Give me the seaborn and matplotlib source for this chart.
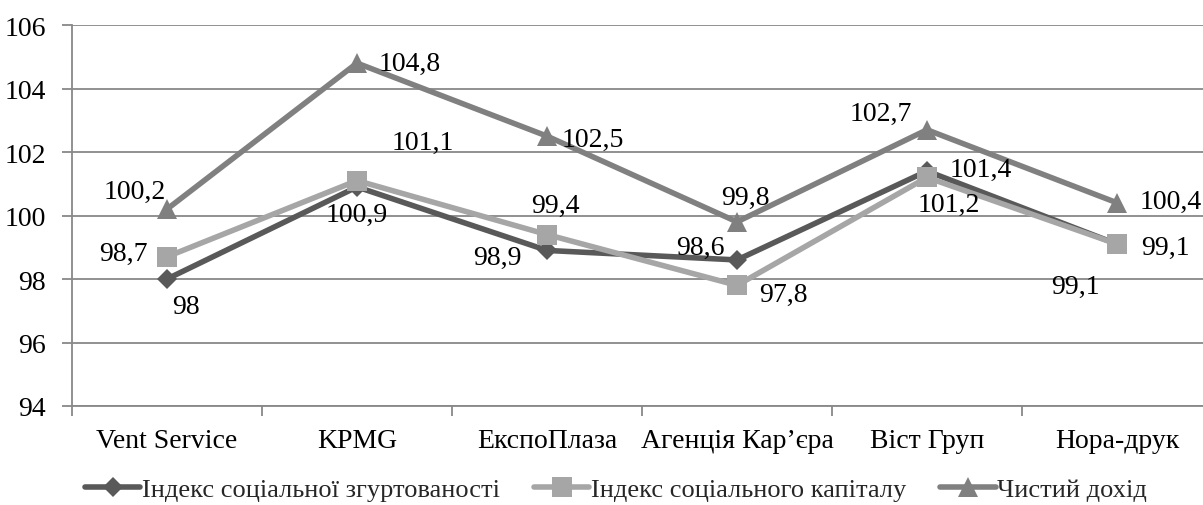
import seaborn as sns
import numpy as np
import pandas as pd
import matplotlib.pyplot as plt
from matplotlib.lines import Line2D

companies = ["Vent Service", "KPMG", "ЕкспоПлаза", "Агенція Кар’єра", "Віст Груп", "Нора-друк"]
cohesion = [98.0, 100.9, 98.9, 98.6, 101.4, 99.1]
capital = [98.7, 101.1, 99.4, 97.8, 101.2, 99.1]
income = [100.2, 104.8, 102.5, 99.8, 102.7, 100.4]
series_names = ["Індекс соціальної згуртованості", "Індекс соціального капіталу", "Чистий дохід"]

colors = ["#595959", "#a6a6a6", "#808080"]
markers = ["D", "s", "^"]
msizes = [10, 14, 14]

# label offsets in pixels, tuned by eye
offsets = [
    [(19, -27), (0, -27), (-50, -7), (-37, 13), (54, 2), (-42, -42)],
    [(-44, 3), (66, 38), (8, 29), (46, -9), (22, -27), (48, -3)],
    [(-32, 18), (53, 0), (46, -3), (8, 24), (-46, 16), (54, 1)],
]

df = pd.DataFrame({
    "company": companies * 3,
    "x": list(range(len(companies))) * 3,
    "value": cohesion + capital + income,
    "series": np.repeat(series_names, len(companies)),
})

sns.set_style("white")
plt.rcParams['font.family'] = ['Liberation Serif', 'DejaVu Serif']
FS = 20

fig = plt.figure(figsize=(12.03, 5.06), dpi=100)
ax = fig.add_axes([72 / 1203, 99 / 506, 1140 / 1203, 381 / 506])

for i, name in enumerate(series_names):
    sub = df[df["series"] == name]
    sns.lineplot(data=sub, x="x", y="value", ax=ax, color=colors[i], linewidth=4,
                 marker=markers[i], markersize=msizes[i], markeredgewidth=0,
                 legend=False, zorder=3 + i)
    for j, (xv, yv) in enumerate(zip(sub["x"], sub["value"])):
        ax.annotate(f"{yv:g}".replace(".", ","), (xv, yv), xytext=offsets[i][j],
                    textcoords="offset pixels", ha="center", va="center",
                    fontsize=FS, color="black", zorder=10)

ax.set_xlim(-0.5, 5.5)
ax.set_ylim(94, 106)
ax.set_yticks(np.arange(94, 107, 2))
ax.yaxis.grid(True, color="#888888", linewidth=1.3)
ax.set_axisbelow(True)
ax.set_xticks(range(len(companies)))
ax.set_xticklabels(companies)
ax.set_xticks(np.arange(-0.5, 6, 1), minor=True)
ax.tick_params(axis="x", which="major", length=0, pad=16, labelsize=FS, labelcolor="black")
ax.tick_params(axis="x", which="minor", length=7, color="#888888", width=1.3, direction="out", bottom=True)
ax.tick_params(axis="y", length=7, color="#888888", width=1.3, labelsize=FS, left=True, pad=12,
               labelcolor="black")
ax.set_xlabel("")
ax.set_ylabel("")
for s in ["top", "right"]:
    ax.spines[s].set_visible(False)
ax.spines["left"].set_color("#888888")
ax.spines["left"].set_linewidth(1.3)
ax.spines["bottom"].set_color("#888888")
ax.spines["bottom"].set_linewidth(1.3)

handles = [Line2D([0], [0], color=colors[i], lw=4, marker=markers[i],
                  markersize=msizes[i], markeredgewidth=0) for i in range(3)]
fig.legend(handles, series_names, loc="center", bbox_to_anchor=(616 / 1203, 16 / 506), ncol=3,
           frameon=False, fontsize=19, handlelength=2.1, handletextpad=0.05, columnspacing=1.3,
           borderpad=0)

fig.savefig("out.png", dpi=100)
